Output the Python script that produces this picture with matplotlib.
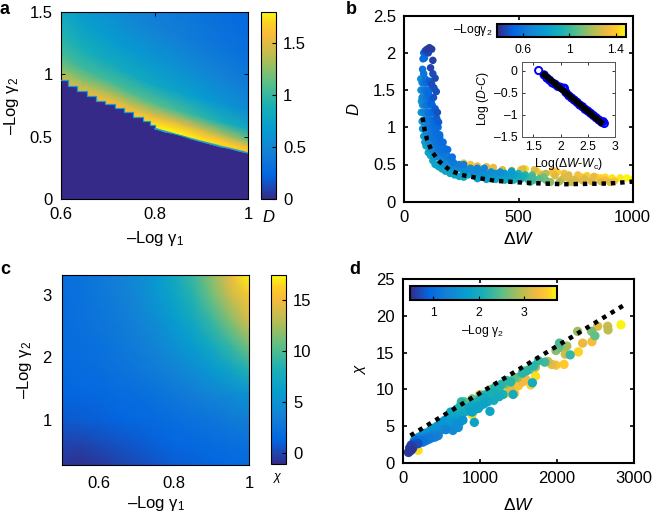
import numpy as np
import matplotlib
matplotlib.use("Agg")
import matplotlib.pyplot as plt
from matplotlib.cm import ScalarMappable
from matplotlib.colors import LinearSegmentedColormap, Normalize

plt.rcParams["font.family"] = ["Liberation Sans", "DejaVu Sans"]
plt.rcParams["mathtext.fontset"] = "custom"
plt.rcParams["mathtext.rm"] = "Liberation Sans"
plt.rcParams["mathtext.it"] = "Liberation Sans:italic"
plt.rcParams["mathtext.default"] = "rm"

W, H = 652, 513

parula_pos = [0, 0.125, 0.25, 0.375, 0.5, 0.625, 0.75, 0.875, 0.94, 1]
parula_rgb = [(.2081, .1663, .5292), (.0117, .40, .88), (.0779, .504, .8384), (.0265, .6137, .8135),
              (.10, .69, .71), (.36, .75, .53), (.70, .74, .33), (.97, .73, .24), (.99, .81, .15),
              (.9763, .9831, .0538)]

# Panel a: D above the critical line, rows are heights above the boundary
a_x = [0.6, 0.65, 0.7, 0.75, 0.8, 0.85, 0.9, 0.95, 1.0]
a_edge = [0.965, 0.84, 0.755, 0.65, 0.565, 0.51, 0.46, 0.413, 0.368]
a_offset = [0, 0.015, 0.05, 0.1, 0.2, 0.35, 0.55, 0.8, 1.15]
a_d = [
    [1.35, 1.35, 1.30, 1.18, 1.03, .93, .80, .68, .58],
    [1.50, 1.50, 1.42, 1.26, 1.03, .88, .72, .60, .50],
    [1.58, 1.58, 1.50, 1.33, 1.04, .83, .67, .55, .45],
    [1.65, 1.68, 1.60, 1.42, 1.08, .82, .64, .50, .42],
    [.60, 1.77, 1.70, 1.50, 1.10, .80, .62, .47, .38],
    [.60, 1.78, 1.72, 1.50, 1.05, .75, .57, .43, .34],
    [.60, 1.75, 1.68, 1.43, .97, .68, .52, .39, .31],
    [.60, 1.71, 1.62, 1.32, .88, .60, .46, .35, .28],
    [.60, 1.65, 1.54, 1.20, .80, .54, .41, .31, .26],
]
a_step_x = [.6, .615, .635, .655, .675, .695, .715, .735, .755, .775, .79, .80]
a_step_y = [.955, .91, .865, .825, .79, .76, .73, .70, .655, .625, .59, .565]
a_line_x = [.80, .82, .84, .86, .88, .90, .92, .94, .96, .98, 1.0]
a_line_y = [.565, .54, .525, .505, .48, .46, .44, .42, .405, .385, .368]

# Panel c: chi on a coarse grid
c_x = [0.5, 0.55, 0.6, 0.65, 0.7, 0.75, 0.8, 0.85, 0.9, 0.95, 1.0]
c_y = [0.27, 0.6, 1.0, 1.4, 1.8, 2.2, 2.6, 3.0, 3.32]
c_chi = [
    [-.6, -.8, -.5, -.1, .2, .6, .9, 1.1, 1.3, 1.5, 1.6],
    [0, -.1, .2, .5, .8, 1.1, 1.4, 1.6, 1.8, 2, 2.2],
    [.8, .9, 1.1, 1.3, 1.5, 1.7, 2, 2.3, 2.6, 3, 3.3],
    [1.3, 1.4, 1.6, 1.8, 2, 2.3, 2.8, 3.3, 3.9, 4.4, 5],
    [1.6, 1.8, 2, 2.3, 2.7, 3.2, 3.8, 4.6, 5.6, 6.8, 8.4],
    [1.8, 2, 2.3, 2.7, 3.2, 3.9, 4.8, 5.9, 7.4, 9.2, 11.3],
    [1.9, 2.2, 2.6, 3, 3.7, 4.6, 5.8, 7.3, 9.2, 11.6, 14.2],
    [2, 2.3, 2.8, 3.4, 4.1, 5.3, 6.8, 8.6, 11, 13.6, 15.8],
    [2, 2.4, 2.9, 3.5, 4.4, 5.6, 7.2, 9.3, 11.8, 14.8, 17.2],
]

# Panel b scatter
b_w = [110, 100, 120, 92, 105, 125, 115, 135, 125, 140, 120, 130, 145, 135, 128, 110, 150, 142, 118, 105,
       85, 82, 88, 80, 85, 92, 100, 98, 108, 115, 125, 135, 95, 105, 115, 125, 135, 145, 155, 165, 175,
       88, 98, 108, 118, 128, 140, 150, 160, 170, 185, 195, 205, 215,
       72, 73, 75, 74, 78, 80, 85, 90, 95, 105, 115, 125, 135, 150, 165, 180, 200, 220, 240, 260,
       80, 85, 90, 95, 100, 110, 120, 130, 145, 160, 175, 190, 205, 225, 245, 270, 300, 330,
       78, 88, 98, 78, 90, 100, 110, 78, 88, 98, 112, 122, 80, 90, 100, 112, 122, 82, 92, 102, 112, 124,
       85, 95, 105, 115, 130, 90, 100, 110, 120, 135, 148, 95, 105, 115, 125, 140, 155,
       105, 115, 125, 140, 155, 170, 115, 130, 145, 160, 175, 190, 130, 150, 170, 190, 210,
       160, 180, 200, 220, 240, 260, 200, 230, 260, 290, 320, 350, 220, 260, 300, 340, 380, 420,
       280, 310, 340, 370, 400, 430, 460, 490, 300, 350, 400, 440, 480, 520, 540, 560, 450, 500, 530, 470,
       320, 360, 400, 440, 480, 510, 350, 390, 420, 460, 500, 530, 560, 590, 620, 550, 580, 610, 640,
       260, 290, 320, 360, 390, 430, 470, 510, 530, 580, 620, 650, 670, 700, 740, 780, 820, 860,
       520, 570, 600, 650, 700, 760, 800, 840, 880, 910, 945, 975, 1000, 680, 730, 780, 640, 600, 720, 820,
       880, 920, 560, 610, 660, 690, 720, 750, 790, 830, 860, 900]
b_d = [2.07, 2.05, 2.05, 2.03, 2.0, 1.9, 1.8, 1.66, 1.72, 1.48, 1.58, 1.53, 1.2, 1.25, 1.4, 1.62, 1.07, 1.12, 1.33,
       1.45,
       2.0, 1.92, 1.93, 1.78, 1.72, 1.65, 1.6, 1.48, 1.42, 1.35, 1.2, 1.05, 1.3, 1.2, 1.1, 1.02, .95, .9, .87, .8, .72,
       1.5, 1.1, 1.0, .9, .85, .78, .72, .68, .65, .62, .6, .57, .53,
       1.65, 1.5, 1.35, 1.2, 1.08, .98, .88, .8, .75, .66, .62, .55, .5, .47, .44, .41, .38, .36, .34, .33,
       1.4, 1.2, 1.05, .95, .9, .8, .72, .7, .62, .58, .53, .5, .48, .46, .45, .43, .41, .39,
       1.6, 1.6, 1.6, 1.5, 1.5, 1.5, 1.5, 1.4, 1.4, 1.4, 1.4, 1.4, 1.3, 1.3, 1.3, 1.3, 1.3, 1.2, 1.2, 1.2, 1.2, 1.2,
       1.1, 1.1, 1.1, 1.1, 1.1, 1.0, 1.0, 1.0, 1.0, 1.0, 1.0, .9, .9, .9, .9, .9, .9,
       .8, .8, .8, .8, .8, .8, .7, .7, .7, .7, .7, .7, .6, .6, .6, .6, .6,
       .5, .5, .5, .5, .5, .5, .45, .45, .45, .45, .45, .45, .4, .4, .4, .4, .4, .4,
       .36, .35, .34, .33, .33, .34, .33, .33, .42, .40, .38, .38, .36, .34, .30, .28, .30, .38, .33, .41,
       .31, .30, .30, .29, .29, .30, .38, .36, .35, .34, .35, .36, .33, .31, .29, .26, .29, .33, .27,
       .52, .50, .48, .47, .46, .43, .42, .43, .44, .41, .38, .38, .40, .33, .30, .33, .29, .32,
       .44, .43, .34, .42, .38, .36, .35, .33, .33, .32, .32, .32, .30, .27, .26, .28, .26, .37, .31, .27,
       .29, .28, .36, .31, .35, .30, .36, .29, .31, .34, .27, .26]
b_g = [.42, .42, .43, .45, .45, .43, .44, .45, .46, .47, .46, .47, .47, .5, .48, .5, .5, .5, .52, .55,
       .53, .55, .55, .6, .6, .58, .58, .58, .58, .56, .56, .55, .6, .6, .6, .58, .58, .57, .56, .56, .58,
       .62, .62, .62, .62, .6, .6, .6, .6, .62, .62, .62, .62, .62,
       .72, .75, .78, .8, .8, .8, .82, .82, .85, .85, .85, .85, .85, .85, .85, .85, .85, .85, .85, .85,
       .68, .68, .68, .68, .68, .68, .68, .68, .68, .68, .7, .7, .7, .7, .7, .7, .72, .72,
       .66, .6, .56, .68, .62, .58, .55, .7, .65, .6, .56, .54, .72, .66, .6, .56, .54, .72, .68, .62, .58, .54,
       .74, .7, .64, .6, .55, .76, .72, .66, .62, .57, .55, .78, .74, .68, .64, .58, .56,
       .76, .72, .68, .62, .58, .56, .76, .72, .66, .62, .58, .56, .78, .72, .66, .62, .58,
       .8, .75, .7, .66, .64, .64, .8, .74, .72, .7, .68, .68, .82, .78, .76, .74, .72, .72,
       .85, .82, .8, .8, .82, .85, .9, .95, .7, .72, .75, .78, .82, .9, 1.0, 1.0, .88, .95, 1.0, .8,
       .8, .82, .85, .88, .92, .95, .75, .78, .8, .82, .88, .95, 1.0, 1.05, 1.1, 1.05, 1.1, 1.1, 1.2,
       1.38, 1.38, 1.32, 1.32, 1.32, 1.3, 1.3, 1.38, 1.45, 1.42, 1.22, 1.42, 1.42, 1.3, 1.32, 1.38, 1.35, 1.42,
       1.3, 1.3, 1.25, 1.36, 1.36, 1.36, 1.42, 1.42, 1.44, 1.46, 1.46, 1.48, 1.48, 1.2, 1.25, 1.3, 1.15, 1.33, 1.3,
       1.3, 1.35, 1.38, 1.05, 1.25, 1.3, 1.28, 1.3, 1.28, 1.3, 1.32, 1.3, 1.3]

b_line_w = [80, 90, 100, 120, 150, 200, 250, 300, 400, 500, 600, 700, 800, 900, 1000]
b_line_d = [1.13, .95, .83, .68, .55, .42, .36, .33, .28, .26, .245, .235, .24, .245, .27]

# Panel b inset
inset_x = [1.6, 1.7, 1.75, 1.8, 1.85, 1.9, 1.95, 2.0, 2.05, 2.07, 2.1, 2.15, 2.2, 2.25, 2.3, 2.35, 2.4, 2.45, 2.5,
           2.55, 2.6, 2.65, 2.7, 2.75, 2.78, 2.8]
inset_y = [0, -.1, -.17, -.22, -.28, -.31, -.36, -.38, -.42, -.40, -.5, -.57, -.62, -.67, -.72, -.78, -.82, -.88,
           -.92, -.97, -1.02, -1.07, -1.12, -1.17, -1.16, -1.2]
inset_fit_x = [1.66, 2.78]
inset_fit_y = [-.05, -1.22]

# Panel d scatter
d_w = [2827, 2655, 2660, 2525, 2452, 2490, 2447, 2331, 2275, 2266, 2170, 2105, 2125, 2030, 2030, 1985, 2090, 1985,
       1930, 1880, 1840, 1760, 1720, 1720, 1680, 1660, 1640, 1560, 1580, 1500, 1430, 1490, 1400, 1350, 1320, 1250,
       1200, 1130, 928, 1090, 1000, 900, 870, 800, 760, 1150, 1050, 950, 980, 930, 860, 700, 650, 620,
       780, 740, 690, 640, 590, 540, 500, 560, 650, 720, 460, 420, 380, 500, 440, 340, 300, 260, 350, 280, 220,
       250, 200, 170, 150, 130, 110, 90, 75, 200, 130, 110, 95, 80, 200, 300,
       150, 200, 250, 300, 350, 400, 450, 500, 550, 600, 650, 700, 750,
       150, 200, 250, 300, 350, 400, 450, 500, 550, 600, 650, 700, 750, 800, 850, 900, 950, 1000, 1050, 1100,
       1150, 1200, 1280, 1350, 1450, 1550, 1600, 1700, 1000, 1050, 1100, 1180, 1250, 1300, 900, 880,
       900, 1450, 1400, 1550, 1600]
d_chi = [18.8, 18.6, 18.1, 18.6, 16.5, 17.3, 17.9, 16.3, 15.1, 17.9, 14.7, 14.8, 15.9, 16.3, 15.7, 15.3, 13.4, 13.3,
         13.4, 13.8, 13.7, 13.9, 13.0, 11.8, 10.9, 10.6, 12.7, 12.5, 11.5, 10.5, 9.3, 11.6, 11.0, 9.5, 10.7, 10.2,
         9.4, 7.0, 5.5, 8.5, 9.3, 8.7, 7.0, 8.3, 8.3, 10.0, 9.2, 7.6, 7.4, 7.2, 7.5, 7.0, 6.7, 6.9,
         5.8, 5.5, 5.2, 6.5, 5.9, 5.7, 5.5, 4.5, 4.4, 4.8, 3.7, 3.5, 3.4, 4.5, 4.8, 3.2, 3.1, 2.8, 4.2, 4.0, 3.5,
         3.2, 3.1, 2.9, 2.6, 2.3, 2.4, 2.0, 1.4, 2.6, 2.0, 1.7, 2.0, 1.5, 1.7, 3.0,
         3.0, 3.4, 3.7, 4.0, 4.3, 4.7, 5.0, 5.4, 5.8, 6.4, 6.9, 7.3, 7.8,
         2.6, 2.8, 3.1, 3.4, 3.6, 3.9, 4.2, 4.5, 4.9, 5.2, 5.6, 5.9, 6.4, 6.9, 7.4, 7.9, 8.2, 8.7, 8.9, 9.4,
         9.6, 10.3, 10.7, 11.2, 11.6, 12.2, 12.5, 13.2, 7.7, 8.0, 8.3, 8.5, 9.0, 9.3, 6.9, 7.0,
         6.5, 9.5, 10.0, 11.0, 11.3]
d_g = [3.7, 3.1, 3.0, 3.15, 3.35, 2.55, 2.65, 3.25, 3.55, 2.8, 2.3, 3.1, 2.85, 2.4, 2.6, 2.7, 3.5, 3.4,
       3.2, 3.1, 2.35, 2.3, 3.0, 3.6, 2.0, 3.55, 2.4, 2.7, 3.3, 3.4, 2.0, 2.8, 2.2, 3.5, 2.6, 2.15,
       2.1, 1.85, 1.85, 2.0, 3.2, 2.6, 3.6, 2.5, 2.2, 2.7, 2.2, 1.9, 1.85, 1.85, 1.9, 2.2, 2.0, 1.9,
       1.6, 1.6, 1.5, 1.9, 1.8, 1.7, 1.6, 1.35, 1.45, 1.55, 1.3, 1.25, 1.25, 1.5, 1.6, 1.2, 1.15, 1.1, 1.6, 1.6, 1.5,
       1.3, 1.1, 1.0, .85, .7, .65, .6, .6, .75, .6, .55, .6, .6, 3.6, 1.3,
       1.5, 1.6, 1.6, 1.7, 1.7, 1.8, 1.8, 1.8, 1.9, 2.0, 2.0, 2.1, 2.2,
       1.2, 1.1, 1.2, 1.3, 1.3, 1.4, 1.5, 1.5, 1.6, 1.7, 1.7, 1.8, 1.9, 2.0, 2.0, 2.0, 2.1, 2.1, 2.0, 2.2,
       2.1, 2.2, 2.2, 2.3, 2.5, 2.2, 2.2, 2.2, 1.85, 1.85, 1.9, 2.0, 2.0, 2.1, 1.85, 1.8,
       3.6, 3.5, 3.2, 3.3, 3.4]
d_line_w = [100, 2870]
d_line_chi = [3.7, 21.5]


def add_axes(fig, left, top, right, bottom):
    return fig.add_axes([left / W, 1 - bottom / H, (right - left) / W, (bottom - top) / H])


def style_axes(ax, width, size=12, length=3):
    for spine in ax.spines.values():
        spine.set_linewidth(width)
    ax.tick_params(direction="in", top=True, right=True, width=width * 0.8, length=length, labelsize=size, pad=6)


def draw_colorbar(fig, cax, norm, ticks, labels, orientation="vertical", size=12, width=0.8):
    cb = fig.colorbar(ScalarMappable(norm=norm, cmap=parula), cax=cax, orientation=orientation)
    cb.set_ticks(ticks, labels=labels)
    cb.ax.tick_params(direction="in", width=0.8, length=3, labelsize=size, pad=5)
    cb.outline.set_linewidth(width)
    return cb


def draw_scatter(ax, xs, ys, gs, norm, size):
    order = np.argsort(-np.array(gs), kind="stable")
    ax.scatter(np.array(xs)[order], np.array(ys)[order], c=np.array(gs)[order], cmap=parula, norm=norm, s=size,
               linewidths=0, zorder=2)


parula = LinearSegmentedColormap.from_list("parula", list(zip(parula_pos, parula_rgb)))

fig = plt.figure(figsize=(W / 100, H / 100), dpi=100)

# a
ax = add_axes(fig, 61, 12, 248, 199)
ax.set_facecolor(parula(0.8))
mesh_x = np.tile(np.array(a_x)[:, None], (1, len(a_offset)))
mesh_y = np.array(a_edge)[:, None] + np.array(a_offset)[None, :]
norm_a = Normalize(0, 1.8)
ax.pcolormesh(mesh_x, mesh_y, np.array(a_d), cmap=parula, norm=norm_a, shading="gouraud")
ax.fill_between(a_step_x, a_step_y, 0, step="post", color=parula(0.0), linewidth=0, zorder=2)
ax.fill_between(a_line_x, a_line_y, 0, color=parula(0.0), linewidth=0, zorder=2)
ax.step(a_step_x, a_step_y, where="post", color="#1a9ad6", lw=0.9, zorder=3)
ax.plot(a_line_x, a_line_y, color="#1a9ad6", lw=0.7, zorder=3)
ax.set_xlim(0.6, 1)
ax.set_ylim(0, 1.5)
ax.set_xticks([0.6, 0.8, 1], ["0.6", "0.8", "1"])
ax.set_yticks([0, 0.5, 1, 1.5], ["0", "0.5", "1", "1.5"])
style_axes(ax, 0.8)
ax.set_xlabel(r"–Log γ$_{1}$", fontsize=12, labelpad=5)
ax.set_ylabel(r"–Log γ$_{2}$", fontsize=12, labelpad=6)

cax = add_axes(fig, 261, 12, 276, 199)
draw_colorbar(fig, cax, norm_a, [0, 0.5, 1, 1.5], ["0", "0.5", "1", "1.5"])
fig.text(268 / W, 1 - 218 / H, "D", style="italic", fontsize=12, ha="center", va="center")

# b
ax = add_axes(fig, 404.3, 15.7, 632.7, 201.7)
norm_b = Normalize(0.38, 1.486)
draw_scatter(ax, b_w, b_d, b_g, norm_b, 29)
ax.plot(b_line_w, b_line_d, color="black", lw=3.2, ls=(0, (1, 1.1)), zorder=3)
ax.set_xlim(0, 1000)
ax.set_ylim(0, 2.5)
ax.set_xticks([0, 500, 1000], ["0", "500", "1000"])
ax.set_yticks([0, 0.5, 1, 1.5, 2, 2.5], ["0", "0.5", "1", "1.5", "2", "2.5"])
style_axes(ax, 1.5)
ax.set_xlabel(r"Δ$\mathit{W}$", fontsize=12.5, labelpad=4)
ax.set_ylabel("D", style="italic", fontsize=12, labelpad=8)

cax = add_axes(fig, 497, 24, 626, 37)
draw_colorbar(fig, cax, norm_b, [0.6, 1, 1.4], ["0.6", "1", "1.4"], "horizontal", size=8.7, width=1.5)
fig.text(493 / W, 1 - 30.5 / H, r"–Logγ$_{2}$", fontsize=8.7, ha="right", va="center")

ins = add_axes(fig, 521.7, 61.7, 615.3, 136.7)
ins.scatter(inset_x, inset_y, s=27, facecolors="none", edgecolors="#0000ff", linewidths=1.4, zorder=2)
ins.plot(inset_fit_x, inset_fit_y, color="black", lw=4.4, solid_capstyle="butt", zorder=3)
ins.set_xlim(1.29, 3)
ins.set_ylim(-1.5, 0.2)
ins.set_xticks([1.5, 2, 2.5, 3], ["1.5", "2", "2.5", "3"])
ins.set_yticks([-1.5, -1, -0.5, 0], ["–1.5", "–1", "–0.5", "0"])
style_axes(ins, 0.7, size=8.7, length=2)
ins.tick_params(pad=3)
for spine in ins.spines.values():
    spine.set_edgecolor("#555555")
ins.set_xlabel(r"Log($\mathit{ΔW}$-$\mathit{W}_{c}$)", fontsize=8.7, labelpad=2)
ins.set_ylabel(r"Log ($\mathit{D}$-$\mathit{C}$)", fontsize=8.7, labelpad=2)

# c
ax = add_axes(fig, 61.7, 275, 249.3, 465)
norm_c = Normalize(-1.05, 17.4)
ax.pcolormesh(c_x, c_y, np.array(c_chi), cmap=parula, norm=norm_c, shading="gouraud")
ax.set_xlim(0.5, 1)
ax.set_ylim(0.27, 3.32)
ax.set_xticks([0.6, 0.8, 1], ["0.6", "0.8", "1"])
ax.set_yticks([1, 2, 3], ["1", "2", "3"])
style_axes(ax, 0.8, length=0)
ax.tick_params(axis="x", pad=8)
ax.tick_params(axis="y", pad=7)
ax.set_xlabel(r"–Log γ$_{1}$", fontsize=12, labelpad=2)
ax.set_ylabel(r"–Log γ$_{2}$", fontsize=12, labelpad=6)

cax = add_axes(fig, 271, 275, 286, 464)
draw_colorbar(fig, cax, norm_c, [0, 5, 10, 15], ["0", "5", "10", "15"])
fig.text(277 / W, 1 - 477 / H, "χ", style="italic", fontsize=9, ha="center", va="center")

# d
ax = add_axes(fig, 402.7, 279.3, 634.3, 462.7)
norm_d = Normalize(0.485, 3.735)
draw_scatter(ax, d_w, d_chi, d_g, norm_d, 45)
ax.plot(d_line_w, d_line_chi, color="black", lw=3.2, ls=(0, (1, 1.2)), zorder=3)
ax.set_xlim(0, 3000)
ax.set_ylim(0, 25)
ax.set_xticks([0, 1000, 2000, 3000], ["0", "1000", "2000", "3000"])
ax.set_yticks([0, 5, 10, 15, 20, 25], ["0", "5", "10", "15", "20", "25"])
style_axes(ax, 1.5)
ax.set_xlabel(r"Δ$\mathit{W}$", fontsize=12.5, labelpad=8)
ax.set_ylabel("χ", style="italic", fontsize=11, labelpad=6)

cax = add_axes(fig, 410, 286, 557, 300)
draw_colorbar(fig, cax, norm_d, [1, 2, 3], ["1", "2", "3"], "horizontal", size=8.7, width=1.5)
fig.text(482 / W, 1 - 331 / H, r"–Log γ$_{2}$", fontsize=8.7, ha="center", va="center")

# Panel letters
for letter, x, y in [("a", 0, 10), ("b", 346, 10), ("c", 0, 270), ("d", 349, 270)]:
    fig.text(x / W, 1 - y / H, letter, fontweight="bold", fontsize=13, ha="left", va="center")

fig.savefig("out.png", dpi=100)
